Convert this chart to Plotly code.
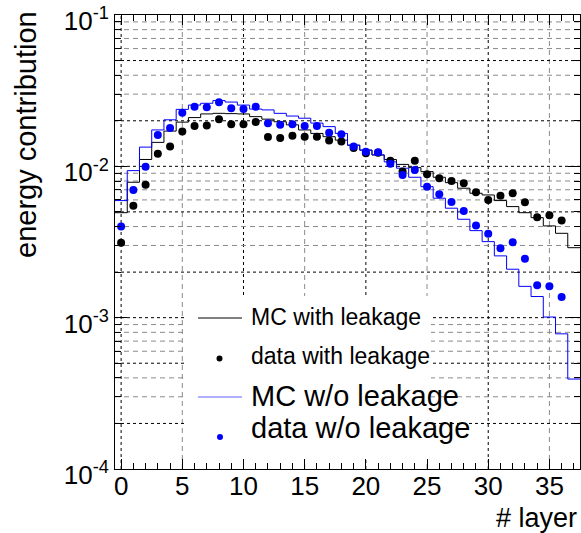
import numpy as np
import plotly.graph_objects as go

# ---------------- data ----------------
layers = list(range(38))
mc_with_leak = [0.00494, 0.00785, 0.0111, 0.0144, 0.0171, 0.0196, 0.0210, 0.0222, 0.0224, 0.0223,
                0.0222, 0.0213, 0.0205, 0.0197, 0.0188, 0.0174, 0.0165, 0.0157, 0.0149, 0.0138,
                0.0128, 0.0119, 0.0111, 0.0103, 0.0098, 0.00923, 0.00847, 0.0078, 0.00717, 0.00664,
                0.00647, 0.00594, 0.00542, 0.00494, 0.00458, 0.00404, 0.00361, 0.0029]
mc_wo_leak = [0.00594, 0.00937, 0.0134, 0.0174, 0.0203, 0.0238, 0.0254, 0.0261, 0.0272, 0.0266,
              0.0254, 0.0239, 0.0236, 0.0224, 0.0215, 0.0208, 0.0193, 0.0183, 0.0165, 0.0138,
              0.0128, 0.0119, 0.0107, 0.00972, 0.00847, 0.00734, 0.00616, 0.00529, 0.00447, 0.00376,
              0.00318, 0.00256, 0.00209, 0.00161, 0.00138, 0.00101, 0.000782, 0.000393]
data_layers = list(range(37))
data_with_leak = [0.00313, 0.0055, 0.00757, 0.0121, 0.0135, 0.0170, 0.0185, 0.0186, 0.0205, 0.0190,
                  0.0190, 0.0196, 0.0156, 0.0154, 0.0159, 0.0157, 0.0157, 0.0148, 0.0146, 0.0132,
                  0.0122, 0.0123, 0.0109, 0.00923, 0.0109, 0.00887, 0.00835, 0.00801, 0.00773, 0.00674,
                  0.0060, 0.0064, 0.00664, 0.00579, 0.00461, 0.00475, 0.00438]
data_wo_leak = [0.00401, 0.00698, 0.00995, 0.0161, 0.0179, 0.0226, 0.0248, 0.0246, 0.0265, 0.0242,
                0.0239, 0.0248, 0.0193, 0.0188, 0.0190, 0.0185, 0.0185, 0.0167, 0.0163, 0.0135,
                0.0125, 0.0124, 0.0104, 0.00877, 0.00947, 0.00734, 0.00654, 0.00582, 0.00507, 0.00406,
                0.00358, 0.00288, 0.00315, 0.00245, 0.00164, 0.00161, 0.00137]

x_ticks = [0, 5, 10, 15, 20, 25, 30, 35]
y_ticks = [1e-4, 1e-3, 1e-2, 1e-1]
y_ticktext = ["10<sup>-4</sup>", "10<sup>-3</sup>", "10<sup>-2</sup>", "10<sup>-1</sup>"]
legend_labels = ["MC with leakage", "data with leakage", "MC w/o leakage", "data w/o leakage"]

FONT = "Liberation Sans, Arial, sans-serif"

# ---------------- layout geometry ----------------
WIDTH, HEIGHT = 581, 533
L, T = 115, 15
W, H = 465, 454
YLOG_MIN, YLOG_MAX = -4.0, -1.0


def px(xp):
    return (xp - L) / W


def py(yp):
    return (T + H - yp) / H


def ydom(v):
    return (np.log10(v) - YLOG_MIN) / (YLOG_MAX - YLOG_MIN)


def steps(centers, vals):
    c = np.asarray(centers, dtype=float)
    xs = np.append(c - 0.5, c[-1] + 0.5)
    ys = np.append(np.asarray(vals, dtype=float), vals[-1])
    return xs, ys


fig = go.Figure()

xs, ys = steps(layers, mc_with_leak)
fig.add_trace(go.Scatter(x=xs, y=ys, mode="lines", line=dict(color="black", width=1, shape="hv"),
                         showlegend=False, hoverinfo="skip"))
xs, ys = steps(layers, mc_wo_leak)
fig.add_trace(go.Scatter(x=xs, y=ys, mode="lines", line=dict(color="#0000ff", width=1, shape="hv"),
                         showlegend=False, hoverinfo="skip"))
fig.add_trace(go.Scatter(x=data_layers, y=data_with_leak, mode="markers",
                         marker=dict(color="black", size=8), showlegend=False))
fig.add_trace(go.Scatter(x=data_layers, y=data_wo_leak, mode="markers",
                         marker=dict(color="#0000ff", size=8), showlegend=False))

DARK = dict(color="black", width=1, dash="3px,3px")
GRAY = dict(color="#8a8a8a", width=1, dash="5px,4px")

shapes = []
# vertical grid
for xv in x_ticks:
    shapes.append(dict(type="line", layer="below", xref="x", yref="y domain", x0=xv, x1=xv, y0=0, y1=1,
                       line=DARK if xv % 10 == 0 else GRAY))
# horizontal grid (log): every 1..9 x decade
for k in (-4, -3, -2):
    for m in range(1, 10):
        if m == 1 and k == -4:
            continue
        v = m * 10.0 ** k
        yv = ydom(v)
        shapes.append(dict(type="line", layer="below", xref="x domain", yref="y domain", x0=0, x1=1,
                           y0=yv, y1=yv, line=DARK if m in (1, 2, 5) else GRAY))
# legend box (white, covers grid)
shapes.append(dict(type="rect", layer="below", xref="paper", yref="paper",
                   x0=px(184), x1=px(431), y0=py(460), y1=py(296),
                   fillcolor="white", line=dict(width=0)))
# legend symbols
shapes.append(dict(type="line", xref="paper", yref="paper", x0=px(198), x1=px(242), y0=py(318), y1=py(318),
                   line=dict(color="black", width=1)))
shapes.append(dict(type="line", xref="paper", yref="paper", x0=px(198), x1=px(242), y0=py(397), y1=py(397),
                   line=dict(color="#6060ff", width=1)))
for (cx, cy, col) in ((219.5, 358.5, "black"), (220, 437, "#0000ff")):
    shapes.append(dict(type="circle", xref="paper", yref="paper", xsizemode="pixel", ysizemode="pixel",
                       xanchor=px(cx), yanchor=py(cy), x0=-3, x1=3, y0=-3, y1=3,
                       fillcolor=col, line=dict(width=0)))

annotations = []
leg_pos = [(317, 23), (356, 23), (396, 29), (428, 29)]
for lab, (yc, fs) in zip(legend_labels, leg_pos):
    annotations.append(dict(text=lab, xref="paper", yref="paper", x=px(249), y=py(yc),
                            xanchor="left", yanchor="middle", showarrow=False,
                            font=dict(family=FONT, size=fs, color="black")))
annotations.append(dict(text="energy contribution", xref="paper", yref="paper", x=px(26), y=py(135),
                        xanchor="center", yanchor="middle", textangle=-90, showarrow=False,
                        font=dict(family=FONT, size=29, color="black")))
annotations.append(dict(text="# layer", xref="paper", yref="paper", x=px(579), y=py(518),
                        xanchor="right", yanchor="middle", showarrow=False,
                        font=dict(family=FONT, size=27, color="black")))

minor_y = [m * 10.0 ** k for k in (-4, -3, -2) for m in range(2, 10)]

fig.update_layout(
    width=WIDTH, height=HEIGHT,
    margin=dict(l=L, r=WIDTH - L - W, t=T, b=HEIGHT - T - H, pad=0),
    paper_bgcolor="white", plot_bgcolor="white",
    showlegend=False,
    shapes=shapes, annotations=annotations,
    font=dict(family=FONT, color="black"),
    xaxis=dict(range=[-0.5, 37.5], tickmode="array", tickvals=x_ticks,
               ticks="inside", ticklen=10, tickcolor="black", showgrid=False, zeroline=False,
               showline=True, linecolor="black", linewidth=1, mirror="ticks",
               tickfont=dict(family=FONT, size=26, color="black"), ticklabelstandoff=-6,
               minor=dict(ticks="inside", ticklen=6, dtick=1, tick0=0, tickcolor="black", showgrid=False)),
    yaxis=dict(type="log", range=[YLOG_MIN, YLOG_MAX + 1e-4], tickmode="array", tickvals=y_ticks,
               ticktext=y_ticktext,
               ticks="inside", ticklen=12, tickcolor="black", showgrid=False, zeroline=False,
               showline=True, linecolor="black", linewidth=1, mirror="ticks",
               tickfont=dict(family=FONT, size=26, color="black"), ticklabelshift=6,
               ticklabeloverflow="allow",
               minor=dict(ticks="inside", ticklen=6, tickmode="array", tickvals=minor_y,
                          tickcolor="black", showgrid=False)),
)

fig.write_html("out.html")
